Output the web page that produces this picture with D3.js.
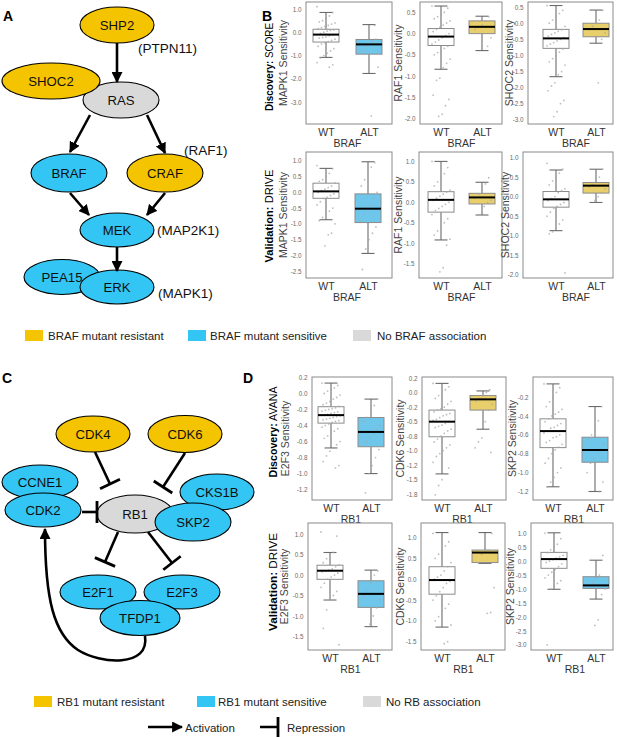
<!DOCTYPE html>
<html><head><meta charset="utf-8">
<script src="https://cdn.jsdelivr.net/npm/d3@7"></script>
<style>body{margin:0;background:#fff} svg{display:block}</style>
</head><body>
<svg id="c" width="617" height="737"></svg>
<script>
// ---------------- DATA ----------------
const groups = ["WT", "ALT"];
const genesB = ["MAPK1", "RAF1", "SHOC2"];
const screensB = ["SCORE", "DRIVE"];
const rowPrefixB = ["Discovery:", "Validation:"];
const mutB = "BRAF";
const genesD = ["E2F3", "CDK6", "SKP2"];
const screensD = ["AVANA", "DRIVE"];
const rowPrefixD = ["Discovery:", "Validation:"];
const mutD = "RB1";

// box stats [lowWhisker, q1, median, q3, highWhisker]
const statsB_SCORE_WT  = [[-1.08,-0.42,-0.10,0.13,0.85],[-0.84,-0.28,-0.07,0.12,0.65],[-1.66,-0.78,-0.47,-0.19,0.55]];
const statsB_SCORE_ALT = [[-1.77,-0.94,-0.52,-0.31,0.33],[-0.40,0.00,0.16,0.30,0.41],[-0.62,-0.42,-0.18,0.00,0.41]];
const statsB_DRIVE_WT  = [[-0.87,-0.19,0.03,0.29,0.76],[-0.92,-0.24,0.06,0.26,1.00],[-0.87,-0.27,-0.07,0.13,0.68]];
const statsB_DRIVE_ALT = [[-1.94,-0.96,-0.52,-0.05,0.97],[-0.31,-0.04,0.12,0.22,0.49],[-0.15,0.09,0.28,0.36,0.70]];
const statsD_AVANA_WT  = [[-0.68,-0.37,-0.27,-0.165,0.13],[-1.40,-0.76,-0.50,-0.30,0.16],[-1.15,-0.735,-0.56,-0.43,-0.06]];
const statsD_AVANA_ALT = [[-1.00,-0.665,-0.48,-0.30,-0.07],[-0.63,-0.30,-0.115,-0.05,0.03],[-1.20,-0.89,-0.76,-0.625,-0.30]];
const statsD_DRIVE_WT  = [[-0.61,-0.105,0.105,0.24,0.55],[-1.15,-0.36,-0.02,0.30,1.12],[-1.01,-0.26,0.07,0.31,1.01]];
const statsD_DRIVE_ALT = [[-1.26,-0.79,-0.46,-0.14,0.12],[0.38,0.40,0.64,0.70,1.12],[-1.36,-0.98,-0.87,-0.56,0.03]];

// ALT association class
const classB_SCORE = ["sensitive","resistant","resistant"];
const classB_DRIVE = ["sensitive","resistant","resistant"];
const classD_AVANA = ["sensitive","resistant","sensitive"];
const classD_DRIVE = ["sensitive","resistant","sensitive"];

// individual cell lines (approximate)
const ptsB_SCORE_WT = [
 [1.1,0.85,0.7,0.6,0.5,0.45,0.4,0.35,0.3,0.25,0.2,0.15,0.1,0.08,0.05,0.0,-0.05,-0.1,-0.12,-0.15,-0.2,-0.22,-0.25,-0.3,-0.35,-0.4,-0.45,-0.5,-0.6,-0.7,-0.8,-0.9,-1.0,-1.1,-1.3,-1.4,-1.5,0.55],
 [0.65,0.6,0.5,0.45,0.4,0.35,0.3,0.25,0.2,0.15,0.1,0.05,0,-0.05,-0.1,-0.15,-0.2,-0.25,-0.3,-0.35,-0.4,-0.45,-0.5,-0.6,-0.7,-0.8,-1.05,-1.1,-1.45,-1.55,-1.7,-1.9,-1.95],
 [0.55,0.4,0.3,0.2,0.1,0,-0.1,-0.2,-0.25,-0.3,-0.35,-0.4,-0.45,-0.5,-0.55,-0.6,-0.65,-0.7,-0.8,-0.9,-1.0,-1.1,-1.2,-1.3,-1.5,-1.6,-1.85,-1.95,-2.1,-2.4,-2.5,-2.75,-2.9]];
const ptsB_SCORE_ALT = [
 [-0.3,-0.4,-0.5,-0.6,-0.8,-1.5,0.3,-3.6],
 [0.4,0.3,0.2,0.15,0.1,-0.1,-0.3],
 [0.4,0.1,0.0,-0.1,-0.2,-0.3,-0.5,-1.85]];
const ptsB_DRIVE_WT = [
 [0.85,0.75,0.6,0.5,0.4,0.35,0.3,0.2,0.15,0.1,0.05,0,-0.05,-0.1,-0.15,-0.2,-0.3,-0.4,-0.5,-0.6,-0.7,-0.8,-0.9,-1.0,-1.3,-1.35,-1.7],
 [1.0,0.85,0.7,0.6,0.5,0.4,0.3,0.25,0.2,0.15,0.1,0.05,0,-0.05,-0.1,-0.15,-0.2,-0.3,-0.4,-0.5,-0.6,-0.7,-0.8,-0.9,-1.05,-1.6,-1.7],
 [0.85,0.7,0.6,0.5,0.4,0.3,0.2,0.15,0.1,0,-0.05,-0.1,-0.15,-0.2,-0.25,-0.3,-0.4,-0.5,-0.6,-0.7,-0.8,-0.9,-0.95,-1.95]];
const ptsB_DRIVE_ALT = [
 [0.95,0.8,0.6,0.4,0.2,0,-0.2,-0.4,-0.5,-0.7,-0.9,-1.1,-1.3,-1.5,-1.8,-2.45],
 [0.6,0.45,0.3,0.2,0.1,0.05,0,-0.1,-0.3],
 [0.7,0.5,0.4,0.3,0.25,0.2,0.1,0,-0.1]];
const ptsD_AVANA_WT = [
 [0.13,0.1,0.07,0.05,0.03,0.0,-0.02,-0.05,-0.07,-0.1,-0.12,-0.14,-0.16,-0.18,-0.19,-0.2,-0.21,-0.22,-0.23,-0.24,-0.25,-0.26,-0.27,-0.28,-0.29,-0.3,-0.31,-0.32,-0.33,-0.34,-0.35,-0.36,-0.38,-0.4,-0.42,-0.44,-0.47,-0.5,-0.53,-0.56,-0.6,-0.64,-0.68,-0.72,-0.78,-0.85,-0.9,-0.93],
 [0.16,0.1,0.05,0,-0.05,-0.1,-0.15,-0.2,-0.25,-0.28,-0.3,-0.33,-0.36,-0.38,-0.4,-0.43,-0.46,-0.48,-0.5,-0.53,-0.56,-0.58,-0.6,-0.63,-0.66,-0.7,-0.75,-0.8,-0.85,-0.9,-0.95,-1.0,-1.05,-1.1,-1.2,-1.3,-1.4,-1.5,-1.6,-1.76],
 [-0.06,-0.1,-0.15,-0.2,-0.25,-0.3,-0.33,-0.36,-0.38,-0.4,-0.43,-0.46,-0.48,-0.5,-0.52,-0.53,-0.56,-0.58,-0.6,-0.62,-0.63,-0.66,-0.68,-0.7,-0.73,-0.76,-0.8,-0.85,-0.9,-0.95,-1.0,-1.05,-1.1,-1.15]];
const ptsD_AVANA_ALT = [
 [-0.07,-0.15,-0.25,-0.3,-0.35,-0.4,-0.45,-0.5,-0.55,-0.6,-0.65,-0.7,-0.8,-0.9,-1.0,-1.24],
 [0.05,0,-0.05,-0.1,-0.15,-0.2,-0.3,-0.5,-0.78,-0.85,-0.95,-1.03],
 [-0.3,-0.45,-0.55,-0.6,-0.65,-0.7,-0.75,-0.8,-0.85,-0.9,-1.0,-1.1,-1.2]];
const ptsD_DRIVE_WT = [
 [1.05,0.95,0.55,0.45,0.4,0.3,0.25,0.2,0.15,0.12,0.1,0.08,0.05,0,-0.05,-0.1,-0.2,-0.3,-0.4,-0.5,-0.6,-0.85,-1.3,-1.7],
 [1.1,0.9,0.8,0.7,0.6,0.5,0.4,0.3,0.2,0.1,0.05,0,-0.05,-0.1,-0.2,-0.3,-0.4,-0.5,-0.6,-0.7,-0.8,-0.9,-1.0,-1.1,-1.5,-1.55],
 [1.0,0.8,0.6,0.5,0.4,0.3,0.2,0.15,0.1,0.05,0,-0.05,-0.1,-0.2,-0.3,-0.4,-0.5,-0.6,-0.7,-0.8,-0.9,-1.0,-3.0]];
const ptsD_DRIVE_ALT = [
 [0.1,0,-0.2,-0.4,-0.5,-0.6,-0.8,-1.0,-1.2],
 [1.1,0.7,0.65,0.6,0.4,-0.2,-0.8,-0.82],
 [0.2,-0.5,-0.6,-0.8,-0.9,-1.0,-1.2,-2.1,-2.3]];

// tick values and labels
const ticksB_SCORE = [[1,0,-1,-2,-3],[0.5,0,-0.5,-1,-1.5,-2],[0.5,0,-0.5,-1,-1.5,-2,-2.5,-3]];
const tickLabB_SCORE = [["1.0","0.0","-1.0","-2.0","-3.0"],["0.5","0.0","-0.5","-1.0","-1.5","-2.0"],["0.5","0.0","-0.5","-1.0","-1.5","-2.0","-2.5","-3.0"]];
const ticksB_DRIVE = [[1,0.5,0,-0.5,-1,-1.5,-2,-2.5],[1,0.5,0,-0.5,-1,-1.5],[1,0.5,0,-0.5,-1,-1.5,-2]];
const tickLabB_DRIVE = [["1.0","0.5","0.0","-0.5","-1.0","-1.5","-2.0","-2.5"],["1.0","0.5","0.0","-0.5","-1.0","-1.5"],["1.0","0.5","0.0","-0.5","-1.0","-1.5","-2.0"]];
const ticksD_AVANA = [[0.2,0,-0.2,-0.4,-0.6,-0.8,-1,-1.2],[0.25,0,-0.25,-0.5,-0.75,-1,-1.25,-1.5,-1.75],[-0.2,-0.4,-0.6,-0.8,-1,-1.2]];
const tickLabD_AVANA = [["0.2","0.0","-0.2","-0.4","-0.6","-0.8","-1.0","-1.2"],["0.2","0.0","-0.2","-0.5","-0.8","-1.0","-1.2","-1.5","-1.8"],["-0.2","-0.4","-0.6","-0.8","-1.0","-1.2"]];
const ticksD_DRIVE = [[1,0.5,0,-0.5,-1,-1.5],[1,0.5,0,-0.5,-1,-1.5],[1,0.5,0,-0.5,-1,-1.5,-2,-2.5,-3]];
const tickLabD_DRIVE = [["1.0","0.5","0.0","-0.5","-1.0","-1.5"],["1.0","0.5","0.0","-0.5","-1.0","-1.5"],["1.0","0.5","0.0","-0.5","-1.0","-1.5","-2.0","-2.5","-3.0"]];

// legends
const legendBLabels = ["BRAF mutant resistant","BRAF mutant sensitive","No BRAF association"];
const legendDLabels = ["RB1 mutant resistant","RB1 mutant sensitive","No RB association"];
const legendKeys = ["resistant","sensitive","none"];
const edgeLegendLabels = ["Activation","Repression"];

// networks
const nodesA = ["SHP2","RAS","SHOC2","BRAF","CRAF","MEK","PEA15","ERK"];
const nodeClassA = ["resistant","none","resistant","sensitive","resistant","sensitive","sensitive","sensitive"];
const geneNotesA = ["(PTPN11)","(RAF1)","(MAP2K1)","(MAPK1)"];
const edgesA = [["SHP2","RAS"],["RAS","BRAF"],["RAS","CRAF"],["BRAF","MEK"],["CRAF","MEK"],["MEK","ERK"]];
const nodesC = ["CDK4","CDK6","CCNE1","CDK2","RB1","CKS1B","SKP2","E2F1","E2F3","TFDP1"];
const nodeClassC = ["resistant","resistant","sensitive","sensitive","none","sensitive","sensitive","sensitive","sensitive","sensitive"];
const repressC = [["CDK4","RB1"],["CDK6","RB1"],["CDK2","RB1"],["RB1","E2F1"],["RB1","E2F3"]];
const activateC = [["TFDP1","CDK2"]];

// ---------------- STYLE / LAYOUT ----------------
const FONT = "'Liberation Sans', Arial, Helvetica, sans-serif";
const nodeColor = {resistant:"#F5C400", sensitive:"#33C5F3", none:"#D9D9D9"};
const boxColor = {resistant:"#E8CF6B", sensitive:"#6EC6EA", none:"#FFFFFF"};

const svg = d3.select("#c");
svg.append("rect").attr("width",617).attr("height",737).attr("fill","#fff");
const defs = svg.append("defs");
defs.append("marker").attr("id","arr").attr("viewBox","0 0 10 10")
  .attr("refX",9).attr("refY",5).attr("markerWidth",11).attr("markerHeight",11)
  .attr("markerUnits","userSpaceOnUse").attr("orient","auto")
  .append("path").attr("d","M0,0 L10,5 L0,10 Z").attr("fill","#000");

function panelLabel(t,x,y){
  svg.append("text").attr("x",x).attr("y",y).text(t)
    .attr("font-family",FONT).attr("font-weight","bold").attr("font-size",14).attr("fill","#000");
}
panelLabel("A",3,21); panelLabel("B",262,21); panelLabel("C",2,383); panelLabel("D",243,383);

// ---------- box plots ----------
const layoutB = [
  [{fx0:306,fx1:392,fy0:2,fy1:124,cx0:326,cx1:369,tx:284,dom:[-3.94,1.30]},
   {fx0:420,fx1:502,fy0:2,fy1:124,cx0:441,cx1:482,tx:399,dom:[-2.13,0.745]},
   {fx0:528,fx1:613,fy0:2,fy1:124,cx0:556,cx1:596,tx:510,dom:[-3.13,0.66]}],
  [{fx0:306,fx1:392,fy0:152,fy1:278,cx0:326,cx1:368,tx:284,dom:[-2.72,1.28]},
   {fx0:419,fx1:502,fy0:152,fy1:278,cx0:441,cx1:482,tx:399,dom:[-1.85,1.23]},
   {fx0:523,fx1:613,fy0:152,fy1:278,cx0:556,cx1:596,tx:506,dom:[-2.08,1.14]}]];
const layoutD = [
  [{fx0:312,fx1:392,fy0:377,fy1:500,cx0:331,cx1:371,tx:286,dom:[-1.33,0.206]},
   {fx0:422,fx1:506,fy0:377,fy1:500,cx0:442,cx1:483,tx:401,dom:[-1.85,0.27]},
   {fx0:533,fx1:613,fy0:377,fy1:500,cx0:553,cx1:595,tx:513,dom:[-1.29,0.013]}],
  [{fx0:308,fx1:392,fy0:523,fy1:650,cx0:330,cx1:371,tx:285,dom:[-1.83,1.27]},
   {fx0:421,fx1:505,fy0:523,fy1:650,cx0:442,cx1:485,tx:401,dom:[-1.70,1.35]},
   {fx0:531,fx1:613,fy0:523,fy1:650,cx0:554,cx1:596,tx:511,dom:[-3.18,1.36]}]];

function drawPlot(L, gene, mut, stats, cls, pts, ticks, tickLabs){
  const g = svg.append("g");
  const y = d3.scaleLinear().domain(L.dom).range([L.fy1, L.fy0]);
  const x = d3.scalePoint().domain(groups).range([L.cx0, L.cx1]);
  g.append("rect").attr("x",L.fx0).attr("y",L.fy0).attr("width",L.fx1-L.fx0).attr("height",L.fy1-L.fy0)
    .attr("fill","#fff").attr("stroke","#8a8a8a").attr("stroke-width",1);
  const bw = 26, cw = 13;
  groups.forEach((grp, gi) => {
    const s = stats[gi], cx = x(grp);
    const fill = gi === 0 ? boxColor.none : boxColor[cls];
    const wc = "#6b6b6b";
    g.append("line").attr("x1",cx).attr("x2",cx).attr("y1",y(s[0])).attr("y2",y(s[1])).attr("stroke",wc).attr("stroke-width",1.1);
    g.append("line").attr("x1",cx).attr("x2",cx).attr("y1",y(s[3])).attr("y2",y(s[4])).attr("stroke",wc).attr("stroke-width",1.1);
    [s[0], s[4]].forEach(v => g.append("line").attr("x1",cx-cw/2).attr("x2",cx+cw/2).attr("y1",y(v)).attr("y2",y(v)).attr("stroke",wc).attr("stroke-width",1.1));
    g.append("rect").attr("x",cx-bw/2).attr("y",y(s[3])).attr("width",bw).attr("height",Math.max(0.5,y(s[1])-y(s[3])))
      .attr("fill",fill).attr("stroke","#8c8c8c").attr("stroke-width",1);
    const p = pts[gi];
    g.selectAll(null).data(p).enter().append("circle")
      .attr("cx",(d,i)=> cx + (((i*7919 + gi*31) % 17) - 8) / 8 * 9)
      .attr("cy",d=>y(d)).attr("r",0.9).attr("fill","#a8a8a8").attr("opacity",0.75);
    g.append("line").attr("x1",cx-bw/2).attr("x2",cx+bw/2).attr("y1",y(s[2])).attr("y2",y(s[2])).attr("stroke","#000").attr("stroke-width",2);
  });
  const ya = d3.axisLeft(y).tickValues(ticks).tickSize(0).tickPadding(4.5)
    .tickFormat((d,i)=>tickLabs[i]);
  const ag = g.append("g").attr("transform",`translate(${L.fx0},0)`).call(ya);
  ag.select(".domain").remove();
  ag.selectAll("text").attr("font-family",FONT).attr("font-size",6.3).attr("fill","#6a6a6a");
  const xa = d3.axisBottom(x).tickSize(0).tickPadding(4.5);
  const xg = g.append("g").attr("transform",`translate(0,${L.fy1})`).call(xa);
  xg.select(".domain").remove();
  xg.selectAll("text").attr("font-family",FONT).attr("font-size",10.5).attr("fill","#333");
  g.append("text").attr("x",(L.cx0+L.cx1)/2).attr("y",L.fy1+22.5).attr("text-anchor","middle")
    .attr("font-family",FONT).attr("font-size",10.5).attr("fill","#333").text(mut);
  g.append("text").attr("transform",`translate(${L.tx+3},${(L.fy0+L.fy1)/2}) rotate(-90)`)
    .attr("text-anchor","middle").attr("font-family",FONT).attr("font-size",10.5).attr("fill","#444")
    .text(gene + " Sensitivity");
}

function rowTitle(prefix, screen, x, yc, len){
  const t = svg.append("text").attr("transform",`translate(${x},${yc}) rotate(-90)`)
    .attr("text-anchor","middle").attr("font-family",FONT).attr("font-size",11.5).attr("fill","#000")
    .attr("textLength",len).attr("lengthAdjust","spacingAndGlyphs");
  t.append("tspan").attr("font-weight","bold").text(prefix);
  t.append("tspan").text(" " + screen);
}

const bStats = [[statsB_SCORE_WT,statsB_SCORE_ALT],[statsB_DRIVE_WT,statsB_DRIVE_ALT]];
const bPts = [[ptsB_SCORE_WT,ptsB_SCORE_ALT],[ptsB_DRIVE_WT,ptsB_DRIVE_ALT]];
const bCls = [classB_SCORE, classB_DRIVE];
const bTicks = [[ticksB_SCORE,tickLabB_SCORE],[ticksB_DRIVE,tickLabB_DRIVE]];
screensB.forEach((sc, r) => {
  genesB.forEach((gene, c) => {
    drawPlot(layoutB[r][c], gene, mutB, [bStats[r][0][c], bStats[r][1][c]], bCls[r][c],
      [bPts[r][0][c], bPts[r][1][c]], bTicks[r][0][c], bTicks[r][1][c]);
  });
});
rowTitle(rowPrefixB[0], screensB[0], 273, 67, 88);
rowTitle(rowPrefixB[1], screensB[1], 273, 216, 93);

const dStats = [[statsD_AVANA_WT,statsD_AVANA_ALT],[statsD_DRIVE_WT,statsD_DRIVE_ALT]];
const dPts = [[ptsD_AVANA_WT,ptsD_AVANA_ALT],[ptsD_DRIVE_WT,ptsD_DRIVE_ALT]];
const dCls = [classD_AVANA, classD_DRIVE];
const dTicks = [[ticksD_AVANA,tickLabD_AVANA],[ticksD_DRIVE,tickLabD_DRIVE]];
screensD.forEach((sc, r) => {
  genesD.forEach((gene, c) => {
    drawPlot(layoutD[r][c], gene, mutD, [dStats[r][0][c], dStats[r][1][c]], dCls[r][c],
      [dPts[r][0][c], dPts[r][1][c]], dTicks[r][0][c], dTicks[r][1][c]);
  });
});
rowTitle(rowPrefixD[0], screensD[0], 277, 432, 91);
rowTitle(rowPrefixD[1], screensD[1], 277, 582, 98);

// ---------- legends ----------
function legendRow(labels, sqX, txtX, ySq, yTxt){
  labels.forEach((lab, i) => {
    svg.append("rect").attr("x",sqX[i]).attr("y",ySq).attr("width",18).attr("height",11)
      .attr("fill",nodeColor[legendKeys[i]]);
    svg.append("text").attr("x",txtX[i]).attr("y",yTxt).text(lab)
      .attr("font-family",FONT).attr("font-size",11.5).attr("fill","#222");
  });
}
legendRow(legendBLabels, [25,188,353], [48,210,377], 330, 340);
legendRow(legendDLabels, [34,197,363], [57,218,386], 696, 706);
svg.append("line").attr("x1",148).attr("x2",182).attr("y1",727).attr("y2",727)
  .attr("stroke","#000").attr("stroke-width",2.5).attr("marker-end","url(#arr)");
svg.append("text").attr("x",185).attr("y",732).text(edgeLegendLabels[0]).attr("font-family",FONT).attr("font-size",11.5).attr("fill","#222");
svg.append("line").attr("x1",260).attr("x2",278).attr("y1",727).attr("y2",727).attr("stroke","#000").attr("stroke-width",2.5);
svg.append("line").attr("x1",278).attr("x2",278).attr("y1",717).attr("y2",737).attr("stroke","#000").attr("stroke-width",2.8);
svg.append("text").attr("x",287).attr("y",732).text(edgeLegendLabels[1]).attr("font-family",FONT).attr("font-size",11.5).attr("fill","#222");

// ---------- networks ----------
const posA = {SHP2:[117,25,37,18], RAS:[121,100,38,18], SHOC2:[51,81,49,18], BRAF:[69,173,38,19],
  CRAF:[165,173,38,19], MEK:[117,230,37,17], PEA15:[62,277,38,17.5], ERK:[117,287,37,17]};
const edgeGeomA = {"SHP2-RAS":[117,43,117,82],"RAS-BRAF":[90,115,70,152],"RAS-CRAF":[147,115,165,153],
  "BRAF-MEK":[70,193,89,215],"CRAF-MEK":[165,193,147,215],"MEK-ERK":[117,247,117,271]};
const notePosA = [[138,53],[184,155],[157,235],[158,298]];

function drawNodes(names, classes, pos){
  names.forEach((n,i) => {
    const p = pos[n];
    svg.append("ellipse").attr("cx",p[0]).attr("cy",p[1]).attr("rx",p[2]).attr("ry",p[3])
      .attr("fill",nodeColor[classes[i]]).attr("stroke","#000").attr("stroke-width",1.1);
    svg.append("text").attr("x",p[0]).attr("y",p[1]+4.6).attr("text-anchor","middle").text(n)
      .attr("font-family",FONT).attr("font-size",13.2).attr("fill","#111");
  });
}
drawNodes(nodesA, nodeClassA, posA);
edgesA.forEach(e => {
  const g = edgeGeomA[e[0]+"-"+e[1]];
  svg.append("line").attr("x1",g[0]).attr("y1",g[1]).attr("x2",g[2]).attr("y2",g[3])
    .attr("stroke","#000").attr("stroke-width",2.6).attr("marker-end","url(#arr)");
});
geneNotesA.forEach((t,i) => svg.append("text").attr("x",notePosA[i][0]).attr("y",notePosA[i][1]).text(t)
  .attr("font-family",FONT).attr("font-size",13.5).attr("fill","#111"));

const posC = {CDK4:[93,434,37,18], CDK6:[185,434,37,18.5], CCNE1:[40,482,38,17], CDK2:[43,510,38,17],
  RB1:[135,514,38,19], CKS1B:[217,492,37,18], SKP2:[193,522,38,19], E2F1:[98,592,38,17],
  E2F3:[182,592,38,17], TFDP1:[140,618,40,17.5]};
const repGeomC = {"CDK4-RB1":[95,452,110,484],"CDK6-RB1":[185,453,163,487],"CDK2-RB1":[82,512,97,512],
  "RB1-E2F1":[118,532,105,562],"RB1-E2F3":[148,532,172,563]};

drawNodes(nodesC, nodeClassC, posC);
repressC.forEach(e => {
  const g = repGeomC[e[0]+"-"+e[1]];
  const dx = g[2]-g[0], dy = g[3]-g[1], len = Math.hypot(dx,dy);
  const px = -dy/len*11, py = dx/len*11;
  svg.append("line").attr("x1",g[0]).attr("y1",g[1]).attr("x2",g[2]).attr("y2",g[3])
    .attr("stroke","#000").attr("stroke-width",2.6);
  svg.append("line").attr("x1",g[2]-px).attr("y1",g[3]-py).attr("x2",g[2]+px).attr("y2",g[3]+py)
    .attr("stroke","#000").attr("stroke-width",2.8);
});
activateC.forEach(e => {
  svg.append("path").attr("d","M145,636 C150,668 100,664 78,650 C54,634 45,600 45,529")
    .attr("fill","none").attr("stroke","#000").attr("stroke-width",2.6).attr("marker-end","url(#arr)");
});
</script>
</body></html>
